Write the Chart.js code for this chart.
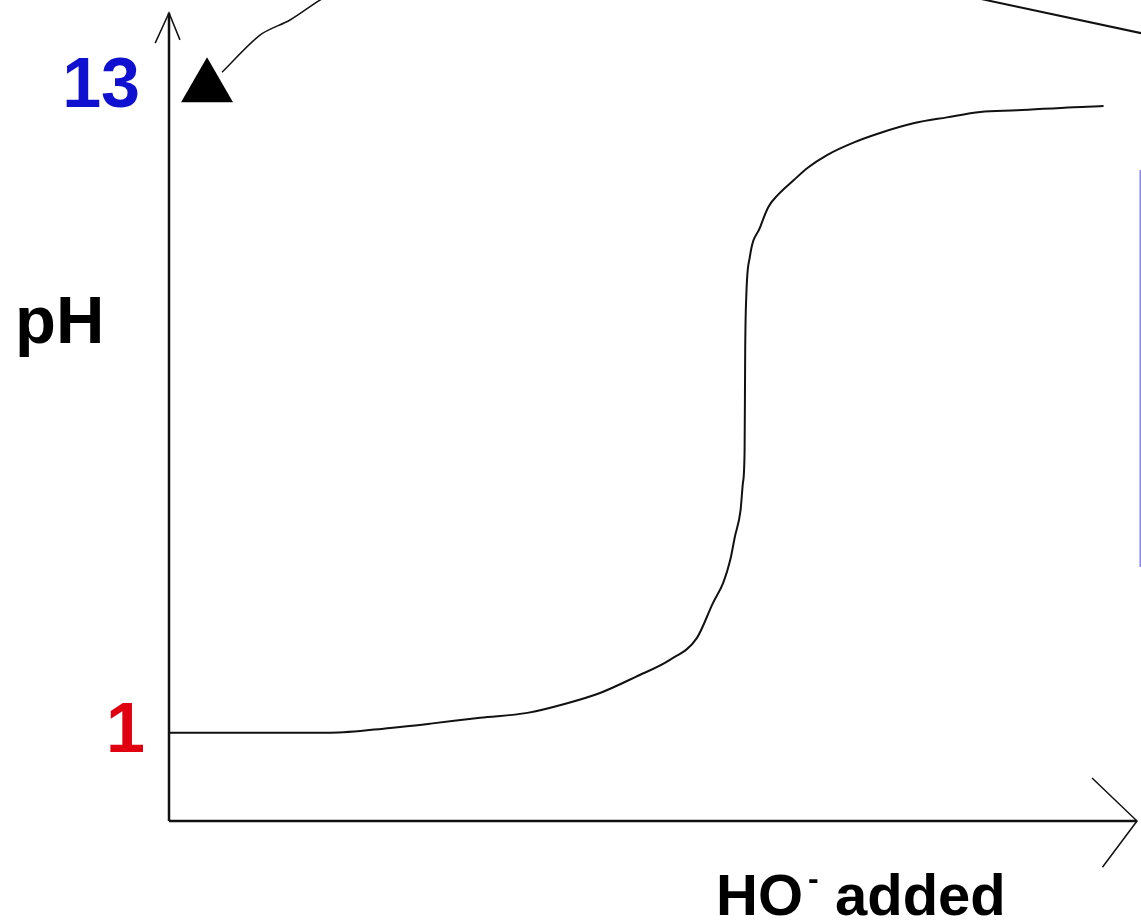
<!DOCTYPE html>
<html>
<head>
<meta charset="utf-8">
<title>pH curve</title>
<script src="https://cdn.jsdelivr.net/npm/chart.js@4.4.1/dist/chart.umd.min.js"></script>
<style>
  html, body { margin: 0; padding: 0; background: #fff; }
  #wrap { width: 1141px; height: 923px; position: relative; }
</style>
</head>
<body>
<div id="wrap"><canvas id="myChart"></canvas></div>
<script>
// HO- added (arbitrary units, equivalence point at 50)
const added = [0, 14, 19.2, 22.7, 27, 31.1, 34.4, 37.4, 40.5, 43.5,
               45.8, 47.2, 48.1, 48.7, 49.1, 49.6, 49.8, 49.95, 50.0, 50.1,
               50.4, 51.3, 52.0, 52.8, 54.2, 55.4, 57.1, 59.5, 61.7, 64.6,
               67.5, 70.4, 73.6, 78.5, 81.1];
const pH = [1.0, 1.0, 1.09, 1.17, 1.28, 1.37, 1.54, 1.74, 2.04, 2.36,
            2.76, 3.41, 3.79, 4.21, 4.64, 5.14, 5.64, 6.26, 8.11, 9.14,
            9.84, 10.40, 10.77, 10.99, 11.27, 11.50, 11.74, 11.98, 12.15, 12.33,
            12.44, 12.54, 12.57, 12.63, 12.65];

// labelled pH values on the axis
const yTicks = [1, 13];
const tickColors = ['#e00010', '#1010d0'];

// axis ranges
const xMin = 0, xMax = 84;
const yMin = -0.64, yMax = 14.38;

// axis lines and arrow heads
const yAxisLine = [{x: 0, y: yMin}, {x: 0, y: yMax}];
const xAxisLine = [{x: 0, y: yMin}, {x: xMax, y: yMin}];
const yArrow = [{x: -1.2, y: 13.82}, {x: 0, y: yMax}, {x: 0.95, y: 13.88}];
const xArrow = [{x: 80.1, y: 0.16}, {x: xMax, y: yMin}, {x: 81.0, y: -1.5}];

// pointer marker at pH 13 and the lines running off the picture
const marker = [{x: 3.3, y: 13.0}];
const pointerLine = [{x: 4.6, y: 13.28}, {x: 7.9, y: 13.97}, {x: 10.5, y: 14.25}, {x: 13.1, y: 14.62}, {x: 14.8, y: 14.81}];
const topRightLine = [{x: 66.1, y: 14.84}, {x: 84.7, y: 13.99}];
const boxEdge = [{x: 84.3, y: 11.46}, {x: 84.3, y: 4.08}];

const curve = added.map((v, i) => ({x: v, y: pH[i]}));

function lineSet(data, color, width, extra) {
  return Object.assign({
    data: data,
    borderColor: color,
    borderWidth: width,
    pointRadius: 0,
    showLine: true,
    fill: false,
    clip: false
  }, extra || {});
}

const textPlugin = {
  id: 'texts',
  afterDatasetsDraw(chart) {
    const ctx = chart.ctx;
    const area = chart.chartArea;
    const y = chart.scales.y;
    ctx.save();
    ctx.textBaseline = 'middle';
    ctx.textAlign = 'right';
    ctx.font = 'bold 70px "Liberation Sans", Arial, sans-serif';
    const offs = [-24, -29];
    yTicks.forEach((v, i) => {
      ctx.fillStyle = tickColors[i];
      ctx.fillText(String(v), area.left + offs[i], y.getPixelForValue(v));
    });

    ctx.fillStyle = '#000';
    ctx.textAlign = 'left';
    ctx.textBaseline = 'alphabetic';
    ctx.font = 'bold 67px "Liberation Sans", Arial, sans-serif';
    ctx.fillText('pH', 15, 343);

    ctx.font = 'bold 58px "Liberation Sans", Arial, sans-serif';
    ctx.fillText('HO', 716, 915);
    ctx.font = 'bold 32px "Liberation Sans", Arial, sans-serif';
    ctx.fillText('-', 808, 889);
    ctx.font = 'bold 58px "Liberation Sans", Arial, sans-serif';
    ctx.fillText('added', 835, 915);
    ctx.restore();
  }
};

new Chart(document.getElementById('myChart'), {
  type: 'scatter',
  data: {
    datasets: [
      lineSet(curve, '#111', 2, {cubicInterpolationMode: 'monotone'}),
      lineSet(yAxisLine, '#111', 2.5),
      lineSet(xAxisLine, '#111', 2.5),
      lineSet(yArrow, '#111', 1.5),
      lineSet(xArrow, '#111', 1.5),
      lineSet(pointerLine, '#111', 1.5, {tension: 0.3}),
      lineSet(topRightLine, '#111', 2),
      lineSet(boxEdge, '#8a8ae6', 2),
      {
        data: marker,
        pointStyle: 'triangle',
        pointRadius: 30,
        pointBackgroundColor: '#000',
        pointBorderColor: '#000',
        pointBorderWidth: 0,
        showLine: false,
        clip: false
      }
    ]
  },
  options: {
    responsive: true,
    maintainAspectRatio: false,
    animation: false,
    layout: {autoPadding: false, padding: {left: 169, top: 13, right: 4, bottom: 102}},
    plugins: {legend: {display: false}, tooltip: {enabled: false}},
    scales: {
      x: {type: 'linear', min: xMin, max: xMax, display: false},
      y: {type: 'linear', min: yMin, max: yMax, display: false}
    }
  },
  plugins: [textPlugin]
});
</script>
</body>
</html>
